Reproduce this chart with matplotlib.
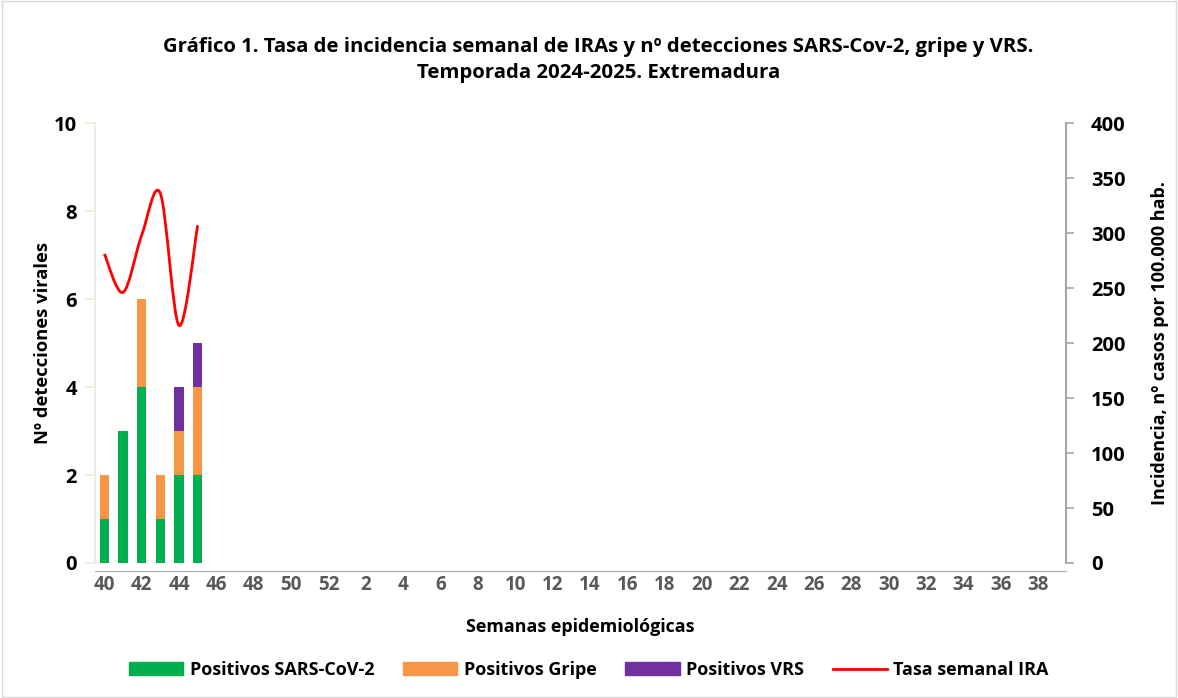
import numpy as np
import matplotlib.pyplot as plt
from matplotlib.path import Path
from matplotlib.patches import PathPatch, Patch
from matplotlib.lines import Line2D

plt.rcParams['font.family'] = ['Open Sans', 'DejaVu Sans']
plt.rcParams['font.weight'] = 'bold'
plt.rcParams['axes.labelweight'] = 'bold'

# Semanas epidemiológicas 40..52 y 1..39
weeks = list(range(40, 53)) + list(range(1, 40))
sars = [1, 3, 4, 1, 2, 2]
gripe = [1, 0, 2, 1, 1, 2]
vrs = [0, 0, 0, 0, 1, 1]
tasa_ira = [281, 246, 298, 336, 216, 307]

GREEN = '#00B050'
ORANGE = '#F79646'
PURPLE = '#7030A0'
RED = '#FF0000'


def smooth_path(xs, ys):
    # Excel-style smoothed line: Bezier segments through the data points
    pts = np.column_stack([xs, ys]).astype(float)
    n = len(pts)
    verts = [pts[0]]
    codes = [Path.MOVETO]
    for i in range(n - 1):
        p_prev = pts[i - 1] if i > 0 else pts[i]
        p_next2 = pts[i + 2] if i + 2 < n else pts[i + 1]
        c1 = pts[i] + (pts[i + 1] - p_prev) / 6
        c2 = pts[i + 1] - (p_next2 - pts[i]) / 6
        verts += [c1, c2, pts[i + 1]]
        codes += [Path.CURVE4] * 3
    return Path(verts, codes)


fig = plt.figure(figsize=(11.78, 6.98), dpi=100)
ax = fig.add_axes([95 / 1178, 1 - 563 / 698, (1066 - 95) / 1178, 440 / 698])
ax2 = ax.twinx()

x = np.arange(len(sars))
w = 0.5
ax.bar(x, sars, w, color=GREEN, zorder=3)
ax.bar(x, gripe, w, bottom=sars, color=ORANGE, zorder=3)
ax.bar(x, vrs, w, bottom=np.array(sars) + np.array(gripe), color=PURPLE, zorder=3)

ax.set_xlim(-0.5, len(weeks) - 0.5)
ax.set_ylim(0, 10)
ax.set_yticks(range(0, 11, 2))
ax.set_xticks(range(0, len(weeks), 2))
ax.set_xticklabels([str(wk) for wk in weeks[::2]])
ax.tick_params(axis='x', length=0, pad=3, labelsize=13.5, labelcolor='#595959')
ax.tick_params(axis='y', length=7, width=1.2, color='#EEECE1', labelsize=14.5, pad=6)

for s in ['top', 'right']:
    ax.spines[s].set_visible(False)
ax.spines['left'].set_color('#EEECE1')
ax.spines['left'].set_linewidth(1.5)
ax.spines['bottom'].set_color('#A6A6A6')
ax.spines['bottom'].set_position(('outward', 6))

ax2.set_ylim(0, 400)
ax2.set_yticks(range(0, 401, 50))
ax2.tick_params(axis='y', length=6, width=1.2, color='#A6A6A6', labelsize=14.5, pad=12)
for s in ['top', 'left', 'bottom']:
    ax2.spines[s].set_visible(False)
ax2.spines['right'].set_color('#A6A6A6')
ax2.spines['right'].set_linewidth(1.5)

ax2.add_patch(PathPatch(smooth_path(x, tasa_ira), facecolor='none',
                        edgecolor=RED, linewidth=2, zorder=4))

ax.set_ylabel('Nº detecciones virales', fontsize=13.2, labelpad=1)
ax2.set_ylabel('Incidencia, nº casos por 100.000 hab.', fontsize=13, labelpad=18)
ax.set_xlabel('Semanas epidemiológicas', fontsize=12.9, labelpad=16)

fig.text(0.508, 1 - 47 / 698, 'Gráfico 1. Tasa de incidencia semanal de IRAs y nº detecciones SARS-Cov-2, gripe y VRS.',
         ha='center', va='center', fontsize=14.7)
fig.text(0.508, 1 - 73 / 698, 'Temporada 2024-2025. Extremadura',
         ha='center', va='center', fontsize=14.7)

handles = [Patch(color=GREEN, label='Positivos SARS-CoV-2'),
           Patch(color=ORANGE, label='Positivos Gripe'),
           Patch(color=PURPLE, label='Positivos VRS'),
           Line2D([], [], color=RED, lw=2, label='Tasa semanal IRA')]
leg = fig.legend(handles=handles, loc='center', bbox_to_anchor=(0.5, 1 - 670 / 698),
                 ncol=4, frameon=False, handlelength=3.0, handleheight=0.7,
                 handletextpad=0.35, columnspacing=1.6,
                 prop={'size': 13, 'weight': 'bold'})

fig.patches.append(plt.Rectangle((0.002, 0.002), 0.996, 0.996, transform=fig.transFigure,
                                 fill=False, edgecolor='#D9D9D9', linewidth=1))

fig.savefig('out.png', dpi=100)
